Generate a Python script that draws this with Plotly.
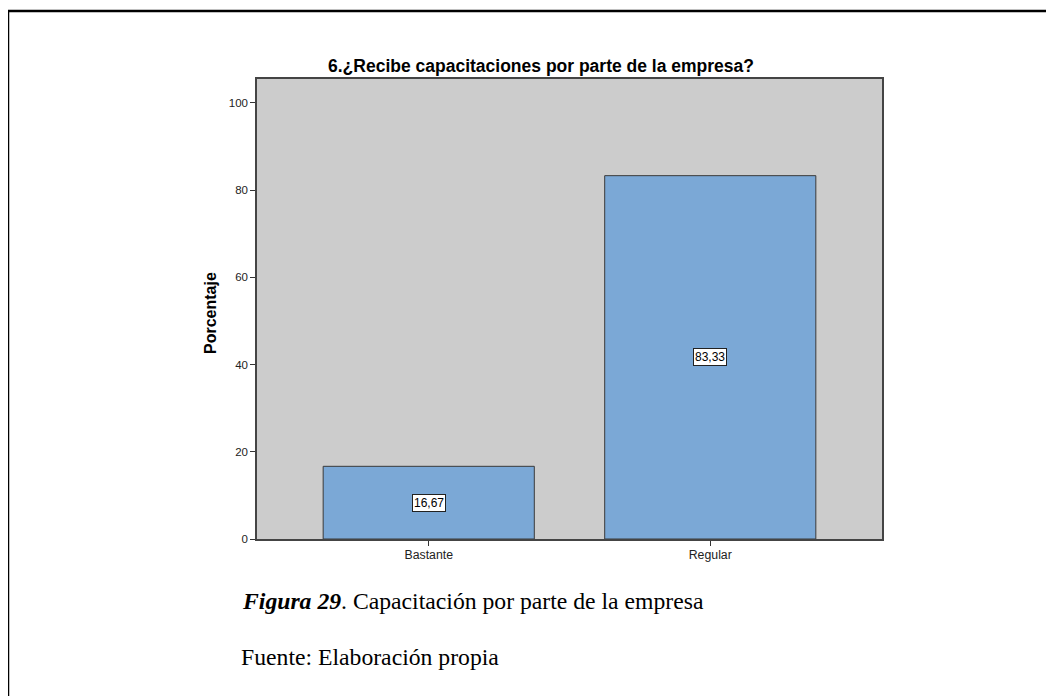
import plotly.graph_objects as go

categories = ["Bastante", "Regular"]
values = [16.67, 83.33]
labels = ["16,67", "83,33"]
y_ticks = [0, 20, 40, 60, 80, 100]

title = "6.¿Recibe capacitaciones por parte de la empresa?"
y_title = "Porcentaje"
caption1 = "<b><i>Figura 29</i></b>. Capacitación por parte de la empresa"
caption2 = "Fuente: Elaboración propia"

OFF = 8  # page body margin
W, H = 1054 - OFF, 696 - OFF
L, R, T, B = 257 - OFF, 882 - OFF, 79 - OFF, 539 - OFF


def px(x):
    return (x - OFF - L) / (R - L)


def py(y):
    return (B - (y - OFF)) / (B - T)


fig = go.Figure()
fig.add_trace(go.Bar(
    x=[0, 1], y=values, width=0.75,
    marker=dict(color="#7BA8D6", line=dict(color="#3a3a3a", width=1)),
    hoverinfo="skip",
))

for i, (v, lab) in enumerate(zip(values, labels)):
    fig.add_annotation(x=i, y=v / 2, xref="x", yref="y", text=lab, showarrow=False,
                       font=dict(family="Liberation Sans", size=12, color="black"),
                       bgcolor="white", bordercolor="#222", borderwidth=1, borderpad=1)

fig.add_annotation(x=px(541), y=py(66), xref="paper", yref="paper", text="<b>" + title + "</b>",
                   showarrow=False, xanchor="center", yanchor="middle",
                   font=dict(family="Liberation Sans", size=17.5, color="black"))
fig.add_annotation(x=px(210), y=py(313), xref="paper", yref="paper", text="<b>" + y_title + "</b>",
                   showarrow=False, textangle=-90, xanchor="center", yanchor="middle",
                   font=dict(family="Liberation Sans", size=16, color="black"))
fig.add_annotation(x=px(240), y=py(601), xref="paper", yref="paper", text=caption1,
                   showarrow=False, xanchor="left", yanchor="middle",
                   font=dict(family="Liberation Serif", size=23.7, color="black"))
fig.add_annotation(x=px(239), y=py(657), xref="paper", yref="paper", text=caption2,
                   showarrow=False, xanchor="left", yanchor="middle",
                   font=dict(family="Liberation Serif", size=23.7, color="black"))

# outer frame (cut off at right and bottom)
fig.add_shape(type="rect", xref="paper", yref="paper",
              x0=px(8), x1=px(1070), y0=py(720), y1=py(11),
              line=dict(color="black", width=2.5), fillcolor="rgba(0,0,0,0)", layer="below")

fig.update_layout(
    width=W, height=H,
    margin=dict(l=L, r=W - R, t=T, b=H - B, pad=0),
    paper_bgcolor="white", plot_bgcolor="#CCCCCC",
    showlegend=False,
    xaxis=dict(range=[-0.61, 1.61], tickvals=[0, 1], ticktext=categories,
               ticks="outside", ticklen=5, tickcolor="#333", showgrid=False, zeroline=False,
               showline=True, linecolor="#444", linewidth=1.5, mirror=True,
               ticklabelstandoff=-2,
               tickfont=dict(family="Liberation Sans", size=12.3, color="#222")),
    yaxis=dict(range=[0, 105.5], tickvals=y_ticks, ticks="outside", ticklen=5, tickcolor="#333",
               showgrid=False, zeroline=False, showline=True, linecolor="#444", linewidth=1.5,
               mirror=True, tickfont=dict(family="Liberation Sans", size=11.5, color="#222")),
)

fig.write_html("out.html")
